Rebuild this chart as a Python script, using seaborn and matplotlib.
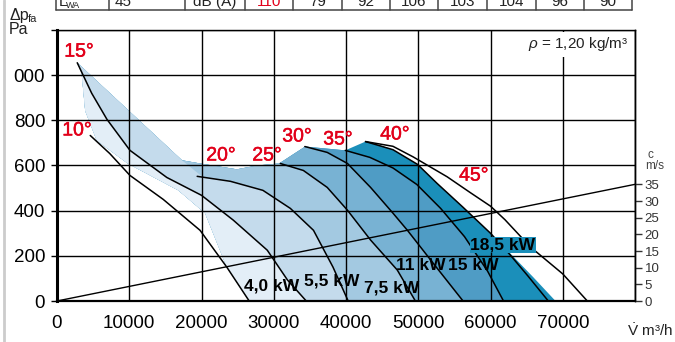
import numpy as np
import pandas as pd
import matplotlib
matplotlib.use("Agg")
import matplotlib.pyplot as plt
import matplotlib.patheffects as pe
from matplotlib.patches import Polygon
from matplotlib.lines import Line2D
import seaborn as sns

# ---------------- data ----------------
# blade-angle characteristic curves: flow V (m3/h), pressure dp (Pa)
angle_labels = ["10°", "15°", "20°", "25°", "30°", "35°", "40°", "45°"]
a10_V = [4600, 7300, 10100, 14700, 19800, 23500, 26600]
a10_P = [733, 653, 556, 450, 313, 150, 0]
a15_V = [2800, 4800, 6900, 10100, 15200, 20000, 24400, 29100, 31900, 34500]
a15_P = [1055, 920, 805, 667, 547, 468, 358, 225, 93, 0]
a20_V = [19400, 24000, 28500, 32300, 35500, 38200, 40300]
a20_P = [552, 530, 490, 410, 313, 150, 0]
a25_V = [30900, 34100, 37400, 40200, 43400, 47100, 49600]
a25_P = [609, 578, 503, 402, 270, 137, 0]
a30_V = [34300, 37400, 40200, 43400, 46500, 48500, 52000, 56200]
a30_P = [684, 658, 609, 503, 389, 313, 170, 0]
a35_V = [39900, 43300, 46500, 49800, 53100, 56400, 59600, 61800]
a35_P = [667, 636, 589, 516, 410, 285, 132, 0]
a40_V = [42700, 46500, 49900, 52600, 56200, 60000, 62700, 65200, 68000]
a40_P = [706, 670, 605, 521, 415, 300, 205, 110, 0]
a45_V = [42700, 46500, 49300, 54000, 57200, 60000, 62000, 65500, 70000, 73400]
a45_P = [706, 685, 638, 550, 480, 420, 360, 240, 120, 0]

# operating-range envelope (coloured area)
env_top_V = [2800, 17300, 19800, 24900, 27700, 30750, 34350, 39900, 42700]
env_top_P = [1055, 623, 609, 583, 600, 609, 684, 667, 706]
env_right_V = [44700, 46500, 49900, 52600, 56200, 60000, 62700, 65900, 69000]
env_right_P = [690, 670, 605, 521, 415, 300, 212, 106, 0]
env_left_V = [26600, 23500, 20500, 16800, 9800, 5500, 3900, 3400]
env_left_P = [0, 150, 389, 490, 609, 711, 843, 1011]

# boundary between 5.5 kW and 7.5 kW zones
b55_V = [17300, 20200, 24000, 28500, 32300, 35500, 38200, 40300]
b55_P = [623, 548, 530, 490, 410, 313, 150, 0]

power_labels = ["4,0 kW", "5,5 kW", "7,5 kW", "11 kW", "15 kW", "18,5 kW"]

# system line for outlet velocity c (m/s)
cline_V = [0, 80000]
cline_c = [0, 35]

x_ticks = [0, 10000, 20000, 30000, 40000, 50000, 60000, 70000, 80000]
x_ticklabels = ["0", "10000", "20000", "30000", "40000", "50000", "60000", "70000", ""]
y_ticks = [0, 200, 400, 600, 800, 1000, 1200]
y_ticklabels = ["0", "200", "400", "600", "800", "000", ""]
c_ticks = [0, 5, 10, 15, 20, 25, 30, 35]

table_cells = ["L", "45", "dB (A)", "110", "79", "92", "106", "103", "104", "96", "90"]

# ---------------- style ----------------
sns.set_theme(style="white")
plt.rcParams["font.family"] = ["Liberation Sans", "DejaVu Sans"]
plt.rcParams["mathtext.fontset"] = "custom"
plt.rcParams["mathtext.rm"] = "Liberation Sans"
plt.rcParams["mathtext.it"] = "Liberation Sans:italic"

RED = "#e2001a"
zone_cols = ["#e3eef7", "#c4dbec", "#a3c9e1", "#78b2d3", "#4f9cc5", "#1b8fba"]

W, H = 675, 342
fig = plt.figure(figsize=(W / 100, H / 100), dpi=100)
fig.patch.set_facecolor("white")
ax = fig.add_axes([57 / W, 41 / H, 578 / W, 271 / H])
ax.set_xlim(0, 80000)
ax.set_ylim(0, 1200)

# envelope / clipping
env_V = env_top_V + env_right_V + env_left_V
env_P = env_top_P + env_right_P + env_left_P
env_patch = Polygon(np.column_stack([env_V, env_P]), closed=True,
                    facecolor="none", edgecolor="none", transform=ax.transData)
ax.add_patch(env_patch)

ax.fill(env_V, env_P, color=zone_cols[5], lw=0, zorder=1)
bounds = [(a35_V, a35_P, zone_cols[4]), (a30_V, a30_P, zone_cols[3]),
          (a25_V, a25_P, zone_cols[2]), (b55_V, b55_P, zone_cols[1]),
          (a15_V, a15_P, zone_cols[0])]
for bV, bP, col in bounds:
    pv = list(bV) + [0, 0, bV[0]]
    pp = list(bP) + [0, 3000, 3000]
    poly = ax.fill(pv, pp, color=col, lw=0, zorder=1)[0]
    poly.set_clip_path(env_patch)

# blade curves via seaborn
curves = [a10_V, a15_V, a20_V, a25_V, a30_V, a35_V, a40_V, a45_V]
curvesP = [a10_P, a15_P, a20_P, a25_P, a30_P, a35_P, a40_P, a45_P]
df = pd.concat([pd.DataFrame({"V": v, "P": p, "angle": lab})
                for v, p, lab in zip(curves, curvesP, angle_labels)], ignore_index=True)
sns.lineplot(data=df, x="V", y="P", hue="angle", units="angle", estimator=None,
             sort=False, palette=["black"] * 8, legend=False, lw=1.1, ax=ax, zorder=2)

# grid / axes
ax.set_xticks(x_ticks)
ax.set_xticklabels(x_ticklabels)
ax.set_yticks(y_ticks)
ax.set_yticklabels(y_ticklabels)
ax.grid(True, color="black", lw=1.0)
ax.set_axisbelow(False)
ax.set_xlabel("")
ax.set_ylabel("")
ax.tick_params(axis="both", which="both", direction="out", colors="black",
               labelsize=13.5, length=4, width=1.0)
ax.tick_params(axis="x", pad=6)
ax.tick_params(axis="y", pad=4.5)
for s in ["top", "right"]:
    ax.spines[s].set_linewidth(1.0)
    ax.spines[s].set_color("black")
ax.spines["left"].set_linewidth(2.2)
ax.spines["bottom"].set_linewidth(1.6)
ax.spines["left"].set_color("black")
ax.spines["bottom"].set_color("black")

# labels for angles
angle_pos = [(2770, 753), (3050, 1102), (22700, 642), (29070, 642),
             (33220, 726), (38890, 713), (46780, 735), (57700, 553)]
for lab, (x, y) in zip(angle_labels, angle_pos):
    ax.text(x, y, lab, color=RED, fontsize=14, ha="center", va="center", zorder=5,
            path_effects=[pe.withStroke(linewidth=0.35, foreground=RED)])

power_pos = [(29760, 66), (38060, 89), (46370, 58), (50380, 155), (57580, 155), (61730, 248)]
for i, (lab, (x, y)) in enumerate(zip(power_labels, power_pos)):
    kw = dict(color="black", fontsize=12.5, fontweight="bold", ha="center", va="center",
              zorder=6, family=["Liberation Sans Narrow", "Liberation Sans", "DejaVu Sans"])
    if i == 5:
        kw["bbox"] = dict(facecolor=zone_cols[5], edgecolor="none", pad=0.6)
    ax.text(x, y, lab, **kw)

ax.text(79100, 1136, r"$\rho$ = 1,20 kg/m³", fontsize=11, ha="right", va="center",
        color="#222222", zorder=6,
        bbox=dict(facecolor="white", edgecolor="none", pad=2.5))

# velocity axis
ax2 = ax.twinx()
ax2.set_position(ax.get_position())
ax2.set_ylim(0, 81.3)
sns.lineplot(x=cline_V, y=cline_c, ax=ax2, color="black", lw=1.0)
ax2.set_xlim(0, 80000)
ax2.set_yticks(c_ticks)
ax2.set_yticklabels([str(c) for c in c_ticks])
ax2.set_ylabel("")
ax2.grid(False)
ax2.tick_params(axis="y", direction="out", length=5, width=1.0, colors="#333333",
                labelsize=9.5, pad=2)
for s in ["top", "left", "bottom"]:
    ax2.spines[s].set_visible(False)
ax2.spines["right"].set_linewidth(1.0)
ax2.spines["right"].set_color("black")

# figure texts
def fx(px):
    return px / W

def fy(py):
    return 1 - py / H

fig.text(fx(9), fy(20), "Δp", fontsize=11.5, color="#222222", va="baseline")
fig.text(fx(28), fy(22), "fa", fontsize=8, color="#222222", va="baseline")
fig.text(fx(9), fy(34), "Pa", fontsize=11.5, color="#222222", va="baseline")
fig.text(fx(647), fy(158), "c", fontsize=8.5, color="#444444", va="baseline")
fig.text(fx(645), fy(169), "m/s", fontsize=8.5, color="#444444", va="baseline")
fig.text(fx(627), fy(336), r"$\dot{\mathrm{V}}$ m³/h", fontsize=11, color="#222222",
         va="baseline")

# clipped table at the top
tab_x = [56, 109, 185, 245, 293, 342, 390, 438, 487, 536, 584, 632]
fig.add_artist(Line2D([fx(56), fx(632)], [fy(9.5), fy(9.5)], color="#444444", lw=1.1))
for xx in tab_x:
    fig.add_artist(Line2D([fx(xx), fx(xx)], [fy(-2), fy(9.5)], color="#444444", lw=1.1))
for i, txt in enumerate(table_cells):
    col = RED if txt == "110" else "#222222"
    if i == 0:
        fig.text(fx(59), fy(6), txt, fontsize=11, color=col, va="baseline", ha="left")
        fig.text(fx(66), fy(8), "WA", fontsize=6.5, color=col, va="baseline", ha="left")
    elif i == 1:
        fig.text(fx(115), fy(6), txt, fontsize=11, color=col, va="baseline", ha="left")
    else:
        cx = (tab_x[i] + tab_x[i + 1]) / 2
        fig.text(fx(cx), fy(6), txt, fontsize=11, color=col, va="baseline", ha="center")

# light grey border at left
fig.add_artist(Line2D([fx(3.5), fx(3.5)], [0, 1], color="#cccccc", lw=2.0))

fig.savefig("out.png", dpi=100, facecolor="white")
